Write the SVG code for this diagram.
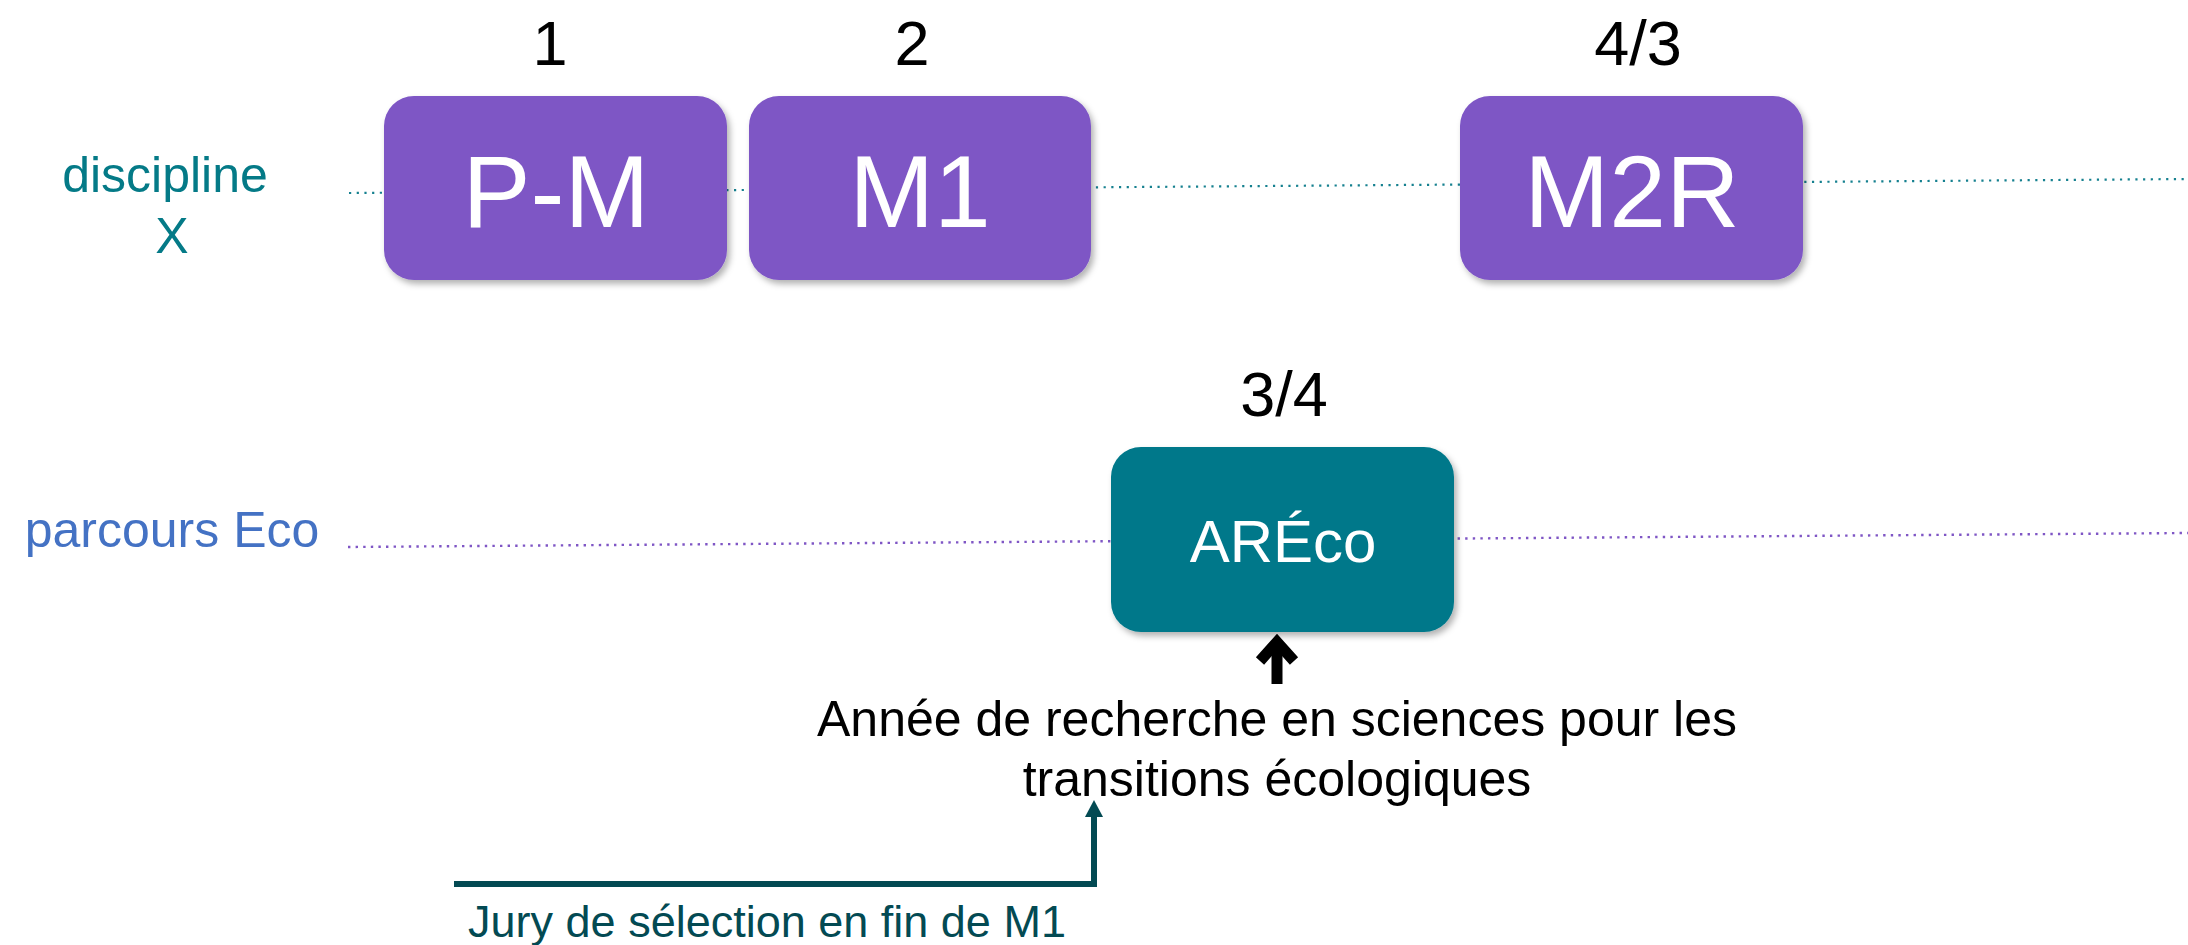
<svg xmlns="http://www.w3.org/2000/svg" width="2188" height="945" viewBox="0 0 2188 945">
<defs>
<filter id="sh" x="-10%" y="-10%" width="125%" height="130%">
<feDropShadow dx="3" dy="4" stdDeviation="3" flood-color="#000" flood-opacity="0.3"/>
</filter>
</defs>
<style>
text{font-family:"Liberation Sans",Arial,sans-serif;}
.num{font-size:63px;fill:#000;text-anchor:middle;}
.big{font-size:102px;fill:#fff;text-anchor:middle;}
.pbox{fill:#7E57C5;filter:url(#sh);}
.tbox{fill:#02788A;filter:url(#sh);}
.dotT{stroke:#15808F;stroke-width:2.2;stroke-dasharray:2.2 5.5;fill:none;}
.dotP{stroke:#7F56C5;stroke-width:2.4;stroke-dasharray:2.4 5.2;fill:none;}
.lab{font-size:50px;text-anchor:middle;}
</style>
<rect width="2188" height="945" fill="#fff"/>
<g id="connectors">
<line class="dotT" x1="349" y1="193" x2="2188" y2="179"/>
<line class="dotP" x1="348" y1="547" x2="2188" y2="533"/>
<path d="M1277,684 V642" stroke="#000" stroke-width="11" fill="none"/>
<polyline points="1260,661 1277,642 1294,661" stroke="#000" stroke-width="11" fill="none" stroke-linejoin="miter"/>
<path d="M454,884 H1094 V815" stroke="#034A53" stroke-width="6" fill="none"/>
<polygon points="1085,817 1094,800 1103,817" fill="#034A53"/>
</g>
<g id="label-discipline">
<text class="lab" x="165" y="192" fill="#047A87">discipline</text>
<text class="lab" x="172" y="253" fill="#047A87">X</text>
</g>
<g id="label-parcours">
<text class="lab" x="172" y="547" fill="#4472C4">parcours Eco</text>
</g>
<g id="node-pm">
<text class="num" x="550" y="65">1</text>
<rect class="pbox" x="384" y="96" width="343" height="184" rx="30"/>
<text class="big" x="556" y="227">P-M</text>
</g>
<g id="node-m1">
<text class="num" x="912" y="65">2</text>
<rect class="pbox" x="749" y="96" width="342" height="184" rx="30"/>
<text class="big" x="920" y="227">M1</text>
</g>
<g id="node-m2r">
<text class="num" x="1638" y="65">4/3</text>
<rect class="pbox" x="1460" y="96" width="343" height="184" rx="30"/>
<text class="big" x="1632" y="227">M2R</text>
</g>
<g id="node-areco">
<text class="num" x="1284" y="416">3/4</text>
<rect class="tbox" x="1111" y="447" width="343" height="185" rx="30"/>
<text x="1283" y="562" font-size="60" fill="#fff" text-anchor="middle">ARÉco</text>
</g>
<g id="label-annee">
<text class="lab" x="1277" y="736" fill="#000">Année de recherche en sciences pour les</text>
<text class="lab" x="1277" y="796" fill="#000">transitions écologiques</text>
</g>
<g id="label-jury">
<text x="767" y="937" font-size="45" fill="#034A53" text-anchor="middle">Jury de sélection en fin de M1</text>
</g>
</svg>
